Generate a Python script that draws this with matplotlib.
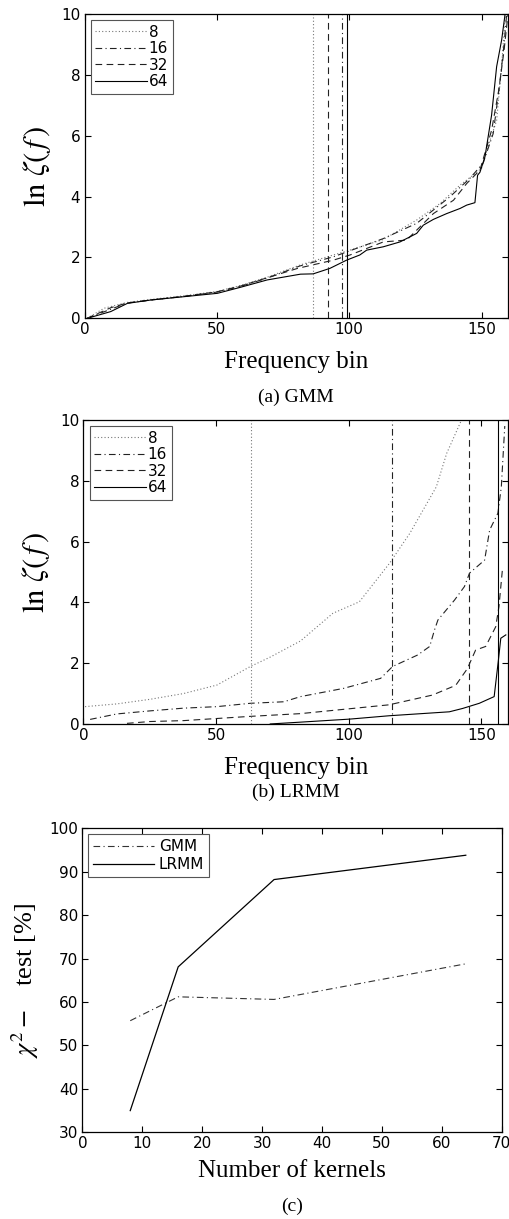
import matplotlib
matplotlib.use("Agg")
import matplotlib.pyplot as plt

plt.rcParams['mathtext.fontset'] = 'stix'
plt.rcParams['font.family'] = 'DejaVu Sans'

# (a) GMM, ln zeta(f) per frequency bin
a8_x = [1, 7.4, 16, 25, 37.6, 50, 59, 69, 81.4, 94, 100.3, 112.9, 125.5, 134.3, 141.9, 146.9, 150, 153.2, 155.7, 157.5, 159]
a8_y = [0, 0.33, 0.52, 0.62, 0.74, 0.88, 1.08, 1.35, 1.75, 2.08, 2.24, 2.59, 3.23, 3.77, 4.38, 4.71, 4.93, 5.85, 6.5, 8.2, 10]
a16_x = [1, 10, 16, 25, 37.6, 50, 59, 69, 81.4, 94, 112.9, 125.5, 138, 145.6, 150.6, 154.4, 157, 158.5, 159.5]
a16_y = [0, 0.3, 0.5, 0.6, 0.72, 0.86, 1.05, 1.32, 1.72, 2.02, 2.62, 3.12, 3.99, 4.6, 5.1, 6.07, 7.8, 9.0, 10]
a32_x = [1, 10, 16, 25, 37.6, 50, 59, 69, 80.5, 94, 100.3, 112.9, 121.7, 131.8, 139.4, 144.4, 149.4, 153.8, 156.5, 158.5, 160]
a32_y = [0, 0.35, 0.5, 0.6, 0.72, 0.87, 1.06, 1.33, 1.64, 1.91, 2.08, 2.51, 2.57, 3.44, 3.88, 4.43, 4.87, 6.18, 7.5, 8.8, 10]
a64_x = [2.3, 9.9, 16.2, 25, 37.6, 50.2, 59, 69, 81.6, 86.4, 92.7, 99, 104, 106.6, 112.9, 119.2, 125.5, 128, 131.8, 136.8, 141.9, 144.4, 147.5, 148.5, 149.4, 151.3, 153.8, 155.7, 157.6, 158.9]
a64_y = [0.03, 0.22, 0.49, 0.6, 0.71, 0.82, 1.02, 1.26, 1.45, 1.46, 1.64, 1.91, 2.08, 2.24, 2.35, 2.51, 2.79, 3.06, 3.25, 3.44, 3.61, 3.72, 3.8, 4.7, 4.8, 5.31, 6.68, 8.27, 9.15, 10]
a_vlines = [86.2, 97.1, 92.1, 99.3]   # 8, 16, 32, 64

# (b) LRMM
b8_x = [0.6, 12.6, 25, 37.7, 50.3, 62.9, 70.4, 81.8, 94, 104, 115.4, 123, 133, 136.9, 142.5]
b8_y = [0.57, 0.66, 0.81, 1.0, 1.28, 1.89, 2.2, 2.73, 3.64, 4.02, 5.29, 6.27, 7.8, 8.9, 10]
b16_x = [2.5, 12.6, 25, 37.7, 50.3, 62.9, 75.5, 81.8, 98, 112, 116.5, 126, 130.5, 132.3, 133.6, 139.9, 143.6, 145.5, 151.2, 153.1, 156.2, 157.5, 158.8]
b16_y = [0.15, 0.33, 0.43, 0.52, 0.57, 0.68, 0.73, 0.9, 1.17, 1.5, 1.89, 2.27, 2.55, 3.09, 3.42, 4.08, 4.52, 4.96, 5.39, 6.38, 6.93, 7.8, 9.8]
b32_x = [16.4, 25, 37.7, 50.3, 62.9, 81.8, 115.2, 131.5, 140.3, 144.7, 147.8, 151.6, 155.4, 156.6, 157.9, 159]
b32_y = [0.02, 0.08, 0.11, 0.18, 0.25, 0.34, 0.63, 0.95, 1.27, 1.82, 2.43, 2.55, 3.2, 3.86, 5.07, 5.1]
b64_x = [70.4, 81.8, 100.4, 115.2, 137.9, 142.9, 149.2, 154.8, 156.4, 157.3, 159.2]
b64_y = [0.0, 0.06, 0.16, 0.27, 0.4, 0.51, 0.68, 0.9, 2.1, 2.82, 2.93]
b_vlines = [63.3, 116.2, 145.4, 156.4]

# (c) chi^2 test vs number of kernels
kernels = [8, 16, 32, 64]
gmm_chi = [55.7, 61.2, 60.6, 68.8]
lrmm_chi = [35.0, 68.1, 88.2, 93.8]

labels = ['8', '16', '32', '64']
styles = [(0, (1, 2)), (0, (6, 3, 1, 3)), (0, (6, 4)), '-']
colors = ['#777777', '#222222', '#222222', 'black']

W, H = 510, 1219
fig = plt.figure(figsize=(W / 100, H / 100), dpi=100)

serif = 'Liberation Serif'

def style_axes(ax):
    ax.tick_params(direction='in', top=True, right=True, length=4, width=0.8,
                   labelsize=11, pad=3)
    for s in ax.spines.values():
        s.set_linewidth(0.9)

def panel(rect, series, vlines):
    ax = fig.add_axes(rect)
    for (xs, ys), lab, ls, c in zip(series, labels, styles, colors):
        ax.plot(xs, ys, linestyle=ls, color=c, lw=0.8, label=lab)
    for v, ls, c in zip(vlines, styles, colors):
        ax.axvline(v, linestyle=ls, color=c, lw=0.8)
    ax.set_xlim(0, 160)
    ax.set_ylim(0, 10)
    ax.set_xticks([0, 50, 100, 150])
    ax.set_yticks([0, 2, 4, 6, 8, 10])
    style_axes(ax)
    ax.set_xlabel('Frequency bin', family=serif, fontsize=18, labelpad=10)
    ax.set_ylabel(r'$\mathrm{ln}\ \zeta(\,f\,)$', fontsize=22, labelpad=6)
    leg = ax.legend(loc='upper left', fontsize=11, handlelength=3.4,
                    handletextpad=0.1, labelspacing=0.1, borderpad=0.3,
                    fancybox=False, framealpha=1, borderaxespad=0.4)
    leg.get_frame().set_edgecolor('#555555')
    leg.get_frame().set_linewidth(0.8)
    return ax

panel([0.1657, 0.7389, 0.8304, 0.2496],
      [(a8_x, a8_y), (a16_x, a16_y), (a32_x, a32_y), (a64_x, a64_y)],
      a_vlines)
fig.text(0.5804, 0.674, '(a) GMM', family=serif, fontsize=14, ha='center', va='center')

panel([0.1637, 0.4061, 0.8323, 0.2494],
      [(b8_x, b8_y), (b16_x, b16_y), (b32_x, b32_y), (b64_x, b64_y)],
      b_vlines)
fig.text(0.58, 0.350, '(b) LRMM', family=serif, fontsize=14, ha='center', va='center')

ax = fig.add_axes([0.1614, 0.0711, 0.8224, 0.2494])
ax.plot(kernels, gmm_chi, linestyle=(0, (6, 3, 1, 3)), color='#333333', lw=0.8, label='GMM')
ax.plot(kernels, lrmm_chi, '-', color='black', lw=0.9, label='LRMM')
ax.set_xlim(0, 70)
ax.set_ylim(30, 100)
ax.set_xticks(range(0, 71, 10))
ax.set_yticks(range(30, 101, 10))
style_axes(ax)
ax.set_xlabel('Number of kernels', family=serif, fontsize=18, labelpad=6)
ax.set_ylabel(r'$\chi^2 -$   test [%]', family=serif, fontsize=19, labelpad=6)
leg = ax.legend(loc='upper left', fontsize=11, handlelength=4.0,
                handletextpad=0.3, labelspacing=0.2, borderpad=0.3,
                fancybox=False, framealpha=1, borderaxespad=0.4)
leg.get_frame().set_edgecolor('#555555')
leg.get_frame().set_linewidth(0.8)
fig.text(0.5725, 0.010, '(c)', family=serif, fontsize=14, ha='center', va='center')

fig.savefig('out.png', dpi=100)
